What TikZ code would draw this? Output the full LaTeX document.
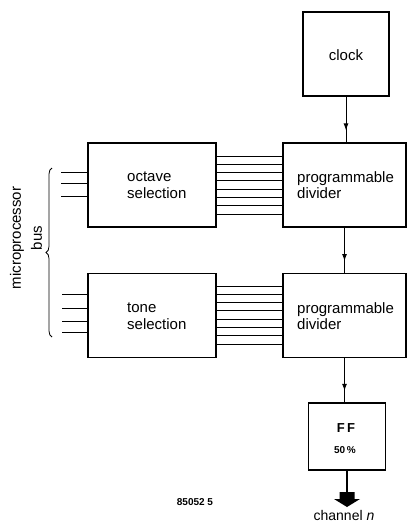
\documentclass[tikz,border=0pt]{standalone}
\usepackage{fontspec}
\setmainfont{Liberation Sans}
\usetikzlibrary{arrows.meta,decorations.markings,decorations.pathreplacing}
\begin{document}
\begin{tikzpicture}[x=1pt,y=-1pt,
  box/.style={draw, line width=1.6pt, inner sep=0pt},
  lbl/.style={font=\fontsize{15}{16.5}\selectfont, align=left, inner sep=0pt},
  bus/.style={line width=0.9pt},
  flow/.style={line width=0.9pt, postaction={decorate},
    decoration={markings, mark=at position 0.74 with {\arrow{Latex[length=7pt,width=5pt]}}}}]
\useasboundingbox (0,0) rectangle (408,522);
% boxes
\node[box, minimum width=86pt, minimum height=84pt] (clock) at (346,54) {};
\node[box, minimum width=123pt, minimum height=84pt] (div1) at (344.5,185) {};
\node[box, minimum width=123pt, minimum height=84pt] (div2) at (344.5,315.5) {};
\node[box, minimum width=128pt, minimum height=84pt] (oct) at (152,185) {};
\node[box, minimum width=128pt, minimum height=84pt] (tone) at (152,315.5) {};
\node[box, minimum width=77pt, minimum height=67pt] (ff) at (347,436.5) {};
% labels
\node[lbl] (clockt) at (346,55) {clock};
\node[lbl, anchor=west] (div1t) at (297,185) {programmable\\divider};
\node[lbl, anchor=west] (div2t) at (297,316) {programmable\\divider};
\node[lbl, anchor=west] (octt) at (127,185) {octave\\selection};
\node[lbl, anchor=west] (tonet) at (127,316) {tone\\selection};
\node[font=\bfseries\fontsize{13}{15}\selectfont, inner sep=0pt] (fft) at (346,428) {F\,F};
\node[font=\bfseries\fontsize{10}{12}\selectfont, inner sep=0pt] (pct) at (345,450) {50\,\%};
\node[lbl, align=center, rotate=90, font=\fontsize{15}{21}\selectfont] (mbus) at (26,238) {microprocessor\\bus};
\node[font=\bfseries\fontsize{10}{12}\selectfont, inner sep=0pt] (code) at (195,502) {85052 5};
\node[font=\fontsize{14}{16}\selectfont, inner sep=0pt] (chan) at (344,515) {channel \textit{n}};
% vertical flow
\draw[flow] (clock.south) -- (clock.south |- div1.north);
\draw[flow] (div1.south) -- (div2.north);
\draw[flow] (div2.south) -- (div2.south |- ff.north);
% bus between boxes
\foreach \y in {156,164.3,172.6,180.9,189.1,197.4,205.7,214}
  \draw[bus] (oct.east |- 0,\y) -- (div1.west |- 0,\y);
\foreach \y in {286,294.3,302.6,310.9,319.1,327.4,335.7,344}
  \draw[bus] (tone.east |- 0,\y) -- (div2.west |- 0,\y);
% microprocessor bus inputs
\foreach \y in {172,183,196}
  \draw[bus] (61,\y) -- (oct.west |- 0,\y);
\foreach \y in {294,308,321,332}
  \draw[bus] (62,\y) -- (tone.west |- 0,\y);
\draw[line width=0.8pt, decorate, decoration={brace, amplitude=6pt}] (52,337) -- (52,168);
% output arrow
\coordinate (ab) at (ff.south |- 0,492);
\draw[line width=1.2pt] (ff.south) -- (ab);
\fill ([xshift=-7.5pt]ab) -- ([xshift=7.5pt]ab) -- ([xshift=7.5pt,yshift=-7pt]ab) -- ([xshift=13pt,yshift=-7pt]ab)
  -- ([yshift=-15pt]ab) -- ([xshift=-13pt,yshift=-7pt]ab) -- ([xshift=-7.5pt,yshift=-7pt]ab) -- cycle;
\end{tikzpicture}
\end{document}
